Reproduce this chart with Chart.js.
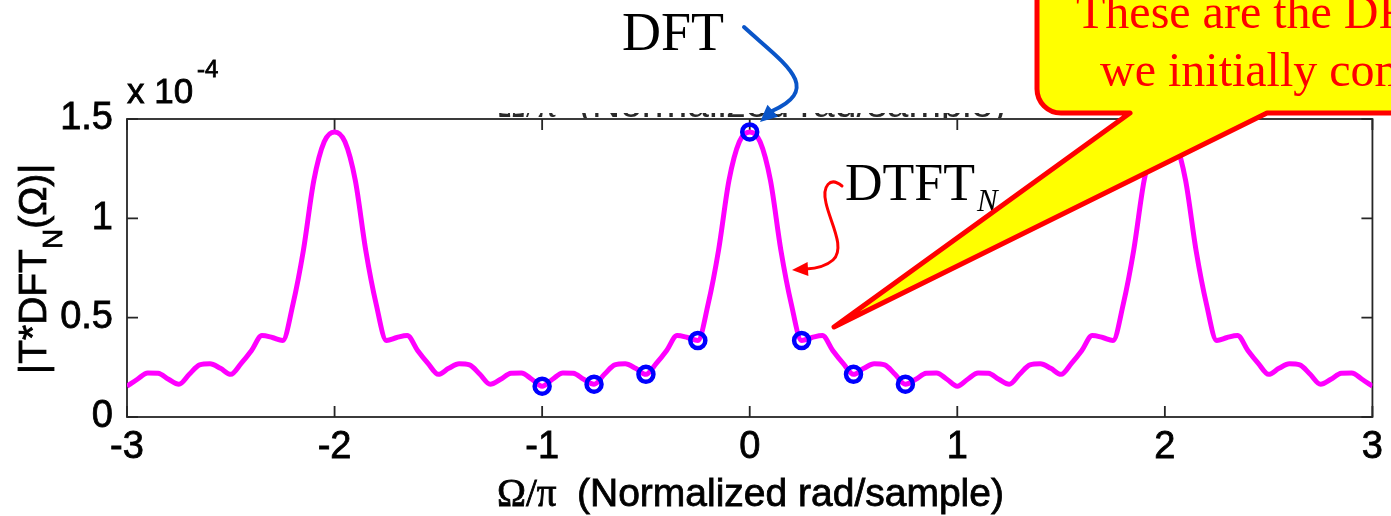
<!DOCTYPE html>
<html>
<head>
<meta charset="utf-8">
<script src="https://cdn.jsdelivr.net/npm/chart.js@4.4.1/dist/chart.umd.min.js"></script>
<style>
  html, body { margin: 0; padding: 0; background: #fff; }
  #plot { display: block; }
</style>
</head>
<body>
<canvas id="plot" width="1391" height="516"></canvas>
<script>
// normalized frequency (x pi) and |T*DFT_N| in units of 1e-4
const omega = [
  -3.00, -2.95, -2.90, -2.85, -2.80, -2.75, -2.70, -2.65, -2.60, -2.55,
  -2.50, -2.45, -2.40, -2.35, -2.30, -2.25, -2.20, -2.15, -2.10, -2.05,
  -2.00, -1.95, -1.90, -1.85, -1.80, -1.75, -1.70, -1.65, -1.60, -1.55,
  -1.50, -1.45, -1.40, -1.35, -1.30, -1.25, -1.20, -1.15, -1.10, -1.05,
  -1.00, -0.95, -0.90, -0.85, -0.80, -0.75, -0.70, -0.65, -0.60, -0.55,
  -0.50, -0.45, -0.40, -0.35, -0.30, -0.25, -0.20, -0.15, -0.10, -0.05,
   0.00,  0.05,  0.10,  0.15,  0.20,  0.25,  0.30,  0.35,  0.40,  0.45,
   0.50,  0.55,  0.60,  0.65,  0.70,  0.75,  0.80,  0.85,  0.90,  0.95,
   1.00,  1.05,  1.10,  1.15,  1.20,  1.25,  1.30,  1.35,  1.40,  1.45,
   1.50,  1.55,  1.60,  1.65,  1.70,  1.75,  1.80,  1.85,  1.90,  1.95,
   2.00,  2.05,  2.10,  2.15,  2.20,  2.25,  2.30,  2.35,  2.40,  2.45,
   2.50,  2.55,  2.60,  2.65,  2.70,  2.75,  2.80,  2.85,  2.90,  2.95,
   3.00
];
const dtftN = [
  0.155, 0.19, 0.222, 0.22, 0.19, 0.165, 0.215, 0.262, 0.268, 0.245,
  0.215, 0.27, 0.335, 0.41, 0.40, 0.385, 0.57, 0.84, 1.19, 1.385,
  1.435, 1.385, 1.19, 0.84, 0.57, 0.385, 0.40, 0.41, 0.335, 0.27,
  0.215, 0.245, 0.268, 0.262, 0.215, 0.165, 0.19, 0.22, 0.222, 0.19,
  0.155, 0.19, 0.222, 0.22, 0.19, 0.165, 0.215, 0.262, 0.268, 0.245,
  0.215, 0.27, 0.335, 0.41, 0.40, 0.385, 0.57, 0.84, 1.19, 1.385,
  1.435, 1.385, 1.19, 0.84, 0.57, 0.385, 0.40, 0.41, 0.335, 0.27,
  0.215, 0.245, 0.268, 0.262, 0.215, 0.165, 0.19, 0.22, 0.222, 0.19,
  0.155, 0.19, 0.222, 0.22, 0.19, 0.165, 0.215, 0.262, 0.268, 0.245,
  0.215, 0.27, 0.335, 0.41, 0.40, 0.385, 0.57, 0.84, 1.19, 1.385,
  1.435, 1.385, 1.19, 0.84, 0.57, 0.385, 0.40, 0.41, 0.335, 0.27,
  0.215, 0.245, 0.268, 0.262, 0.215, 0.165, 0.19, 0.22, 0.222, 0.19,
  0.155
];

// the 8 DFT samples
const dftOmega = [-1, -0.75, -0.5, -0.25, 0, 0.25, 0.5, 0.75];
const dftMag = [0.155, 0.165, 0.215, 0.385, 1.435, 0.385, 0.215, 0.165];

const xTicks = [-3, -2, -1, 0, 1, 2, 3];
const yTicks = [0, 0.5, 1, 1.5];

const SANS = "'Liberation Sans', Arial, sans-serif";
const SERIF = "'Liberation Serif', 'Times New Roman', serif";

// box around the axes with inward tick marks on all four sides
const frame = {
  id: 'frame',
  beforeDatasetsDraw(chart) {
    const { ctx, chartArea: a, scales: { x, y } } = chart;
    ctx.save();
    ctx.strokeStyle = '#262626';
    ctx.lineWidth = 1.8;
    ctx.strokeRect(a.left, a.top, a.right - a.left, a.bottom - a.top);
    ctx.beginPath();
    xTicks.forEach(v => {
      const px = x.getPixelForValue(v);
      ctx.moveTo(px, a.bottom); ctx.lineTo(px, a.bottom - 11);
      ctx.moveTo(px, a.top); ctx.lineTo(px, a.top + 11);
    });
    yTicks.forEach(v => {
      const py = y.getPixelForValue(v);
      ctx.moveTo(a.left, py); ctx.lineTo(a.left + 11, py);
      ctx.moveTo(a.right, py); ctx.lineTo(a.right - 11, py);
    });
    ctx.stroke();
    ctx.restore();
  }
};

const arrowHead = (ctx, tipX, tipY, fromX, fromY, len, half) => {
  const dx = tipX - fromX, dy = tipY - fromY;
  const d = Math.hypot(dx, dy);
  const ux = dx / d, uy = dy / d;
  const bx = tipX - ux * len, by = tipY - uy * len;
  ctx.beginPath();
  ctx.moveTo(tipX, tipY);
  ctx.lineTo(bx - uy * half, by + ux * half);
  ctx.lineTo(bx + uy * half, by - ux * half);
  ctx.closePath();
  ctx.fill();
};

// filled text with a thin outline so it reads as heavy as the axis labels
const heavyText = (ctx, s, x, y) => {
  ctx.fillText(s, x, y);
  ctx.strokeText(s, x, y);
};

// axis titles, exponent, labels, arrows and the callout
const notes = {
  id: 'notes',
  afterDraw(chart) {
    const ctx = chart.ctx;
    ctx.save();
    ctx.fillStyle = '#000';
    ctx.strokeStyle = '#000';
    ctx.lineWidth = 0.8;
    ctx.textAlign = 'left';
    ctx.textBaseline = 'alphabetic';

    // leftover of a title sitting behind the top axis line
    ctx.save();
    ctx.beginPath();
    ctx.rect(480, 113, 540, 5);
    ctx.clip();
    ctx.fillStyle = '#2a2a2a';
    ctx.font = `39px ${SERIF}`;
    ctx.fillText('Ω/π', 497, 117);
    ctx.font = `39px ${SANS}`;
    ctx.fillText('(Normalized rad/sample)', 579, 117);
    ctx.restore();

    // exponent
    ctx.font = `35px ${SANS}`;
    heavyText(ctx, 'x 10', 127, 103);
    ctx.font = `24px ${SANS}`;
    heavyText(ctx, '-4', 197, 77);

    // x title
    ctx.font = `39px ${SERIF}`;
    heavyText(ctx, 'Ω/π', 497, 506);
    ctx.font = `39px ${SANS}`;
    heavyText(ctx, '(Normalized rad/sample)', 577, 506);

    // y title, rotated, with subscript N
    ctx.save();
    ctx.translate(46, 374);
    ctx.rotate(-Math.PI / 2);
    ctx.font = `39px ${SANS}`;
    let w = 0;
    heavyText(ctx, '|T*DFT', 0, 0);
    w += ctx.measureText('|T*DFT').width;
    ctx.font = `28px ${SANS}`;
    heavyText(ctx, 'N', w, 16);
    w += ctx.measureText('N').width;
    ctx.font = `39px ${SANS}`;
    heavyText(ctx, '(Ω)|', w, 0);
    ctx.restore();

    // DFT label and its arrow
    ctx.font = `54px ${SERIF}`;
    ctx.fillText('DFT', 622, 50);
    ctx.strokeStyle = '#0a55c8';
    ctx.fillStyle = '#0a55c8';
    ctx.lineWidth = 4;
    ctx.lineCap = 'round';
    ctx.beginPath();
    ctx.moveTo(744, 27);
    ctx.bezierCurveTo(782, 62, 825, 88, 772, 111);
    ctx.stroke();
    arrowHead(ctx, 760, 122, 785, 100, 17, 8);

    // DTFT_N label and its arrow
    ctx.fillStyle = '#000';
    ctx.font = `52px ${SERIF}`;
    ctx.fillText('DTFT', 845, 200);
    ctx.font = `italic 31px ${SERIF}`;
    ctx.fillText('N', 977, 211);
    ctx.strokeStyle = '#ff0000';
    ctx.fillStyle = '#ff0000';
    ctx.lineWidth = 3;
    ctx.beginPath();
    ctx.moveTo(842, 186);
    ctx.bezierCurveTo(830, 176, 822, 186, 826, 203);
    ctx.bezierCurveTo(830, 222, 846, 248, 833, 260);
    ctx.quadraticCurveTo(824, 268, 806, 269);
    ctx.stroke();
    arrowHead(ctx, 792, 270, 810, 269, 16, 7);

    // speech callout
    ctx.fillStyle = '#ffff00';
    ctx.strokeStyle = '#ff0000';
    ctx.lineWidth = 5;
    ctx.lineJoin = 'round';
    ctx.beginPath();
    ctx.moveTo(1500, 113);
    ctx.lineTo(1267, 113);
    ctx.lineTo(834, 327);
    ctx.lineTo(1130, 113);
    ctx.lineTo(1060, 113);
    ctx.arcTo(1037, 113, 1037, 88, 24);
    ctx.lineTo(1037, -50);
    ctx.lineTo(1500, -50);
    ctx.closePath();
    ctx.fill();
    ctx.stroke();

    ctx.fillStyle = '#ff0000';
    ctx.font = `48px ${SERIF}`;
    ctx.fillText('These are the DFT values', 1076, 28);
    ctx.fillText('we initially computed', 1100, 86);
    ctx.restore();
  }
};

new Chart(document.getElementById('plot'), {
  type: 'line',
  data: {
    datasets: [
      {
        data: omega.map((w, i) => ({ x: w, y: dtftN[i] })),
        borderColor: '#ff00ff',
        borderWidth: 5,
        pointRadius: 0,
        cubicInterpolationMode: 'monotone',
        order: 2
      },
      {
        data: dftOmega.map((w, i) => ({ x: w, y: dftMag[i] })),
        showLine: false,
        pointRadius: 7.5,
        pointBorderWidth: 4.5,
        pointBorderColor: '#0000ff',
        pointBackgroundColor: 'rgba(0,0,0,0)',
        order: 1
      }
    ]
  },
  options: {
    responsive: false,
    animation: false,
    devicePixelRatio: 1,
    layout: { padding: { left: 0, right: 9, top: 119, bottom: 0 } },
    plugins: { legend: { display: false }, tooltip: { enabled: false } },
    scales: {
      x: {
        type: 'linear',
        min: -3,
        max: 3,
        afterBuildTicks: s => { s.ticks = xTicks.map(v => ({ value: v })); },
        afterFit: s => { s.height = 99; },
        grid: { display: false, drawTicks: false },
        border: { display: false },
        ticks: {
          color: '#000',
          font: { family: SANS, size: 38 },
          textStrokeColor: '#000',
          textStrokeWidth: 0.8,
          padding: 8,
          maxRotation: 0,
          autoSkip: false,
          callback: v => String(v)
        }
      },
      y: {
        type: 'linear',
        min: 0,
        max: 1.5,
        afterBuildTicks: s => { s.ticks = yTicks.map(v => ({ value: v })); },
        afterFit: s => { s.width = 127; },
        grid: { display: false, drawTicks: false },
        border: { display: false },
        ticks: {
          color: '#000',
          font: { family: SANS, size: 38 },
          textStrokeColor: '#000',
          textStrokeWidth: 0.8,
          padding: 14,
          callback: v => String(v)
        }
      }
    }
  },
  plugins: [frame, notes]
});
</script>
</body>
</html>
